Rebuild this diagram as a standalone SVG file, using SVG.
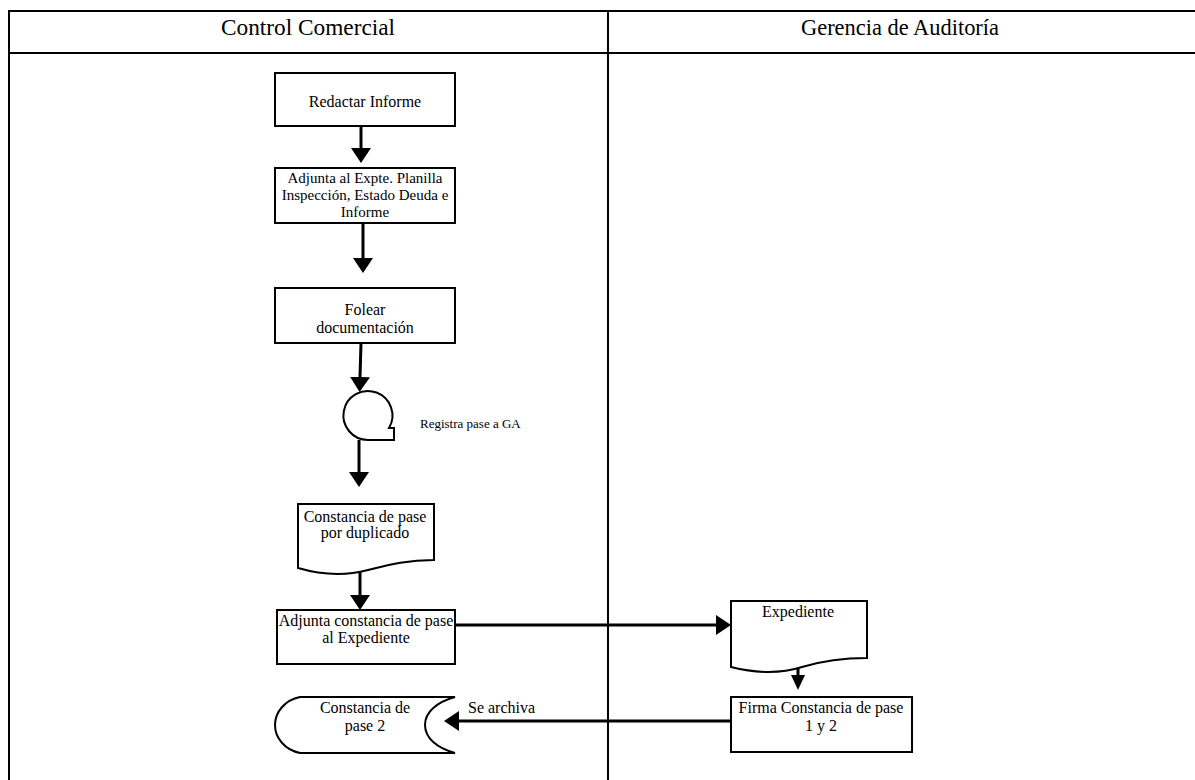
<svg xmlns="http://www.w3.org/2000/svg" width="1195" height="780" viewBox="0 0 1195 780">
  <defs>
    <marker id="head" markerUnits="userSpaceOnUse" markerWidth="16" markerHeight="22" viewBox="0 -11 16 22" refX="0" refY="0" orient="auto">
      <path d="M0,-10 L15,0 L0,10 Z" fill="#000"/>
    </marker>
    <marker id="headSmall" markerUnits="userSpaceOnUse" markerWidth="16" markerHeight="16" viewBox="0 -8 16 16" refX="0" refY="0" orient="auto">
      <path d="M0,-7 L15,0 L0,7 Z" fill="#000"/>
    </marker>
    <style>
      .lane { stroke: #000; stroke-width: 2; fill: none; }
      .shape { fill: #fff; stroke: #000; stroke-width: 2; }
      .label { font-family: "Liberation Serif", "Times New Roman", serif; font-size: 16px; fill: #000; text-anchor: middle; }
      .label.small { font-size: 15px; }
      .note { font-family: "Liberation Serif", "Times New Roman", serif; fill: #000; }
      .title { font-family: "Liberation Serif", "Times New Roman", serif; font-size: 24px; fill: #000; text-anchor: middle; }
      .flow { stroke: #000; stroke-width: 3; fill: none; marker-end: url(#head); }
      .flowSmall { stroke: #000; stroke-width: 3; fill: none; marker-end: url(#headSmall); }
    </style>
  </defs>
  <rect width="1195" height="780" fill="#fff"/>

  <!-- swimlane table -->
  <g id="lanes">
    <line class="lane" x1="8" y1="11" x2="1195" y2="11"/>
    <line class="lane" x1="8" y1="53" x2="1195" y2="53"/>
    <line class="lane" x1="9" y1="10" x2="9" y2="780"/>
    <line class="lane" x1="608" y1="10" x2="608" y2="780"/>
    <text class="title" x="308" y="35" textLength="174" lengthAdjust="spacingAndGlyphs">Control Comercial</text>
    <text class="title" x="900" y="35" textLength="198" lengthAdjust="spacingAndGlyphs">Gerencia de Auditoría</text>
  </g>

  <!-- connectors -->
  <g id="connectors">
    <line class="flow" x1="361" y1="126" x2="361" y2="148"/>
    <line class="flow" x1="363" y1="223" x2="363" y2="258"/>
    <line class="flow" x1="361" y1="343" x2="360" y2="377"/>
    <line class="flow" x1="359" y1="440" x2="359" y2="472"/>
    <line class="flow" x1="360" y1="570" x2="360" y2="595"/>
    <line class="flow" x1="455" y1="625" x2="716" y2="625"/>
    <line class="flowSmall" x1="798" y1="668" x2="798" y2="675"/>
    <line class="flow" x1="731" y1="721" x2="459" y2="721"/>
    <text class="note" x="468" y="713" font-size="16">Se archiva</text>
  </g>

  <g id="redactar-informe">
    <rect class="shape" x="275" y="73" width="180" height="53"/>
    <text class="label" x="365" y="107">Redactar Informe</text>
  </g>

  <g id="adjunta-expte">
    <rect class="shape" x="275" y="168" width="180" height="55"/>
    <text class="label small" x="365" y="183">Adjunta al Expte. Planilla</text>
    <text class="label small" x="365" y="200">Inspección, Estado Deuda e</text>
    <text class="label small" x="365" y="217">Informe</text>
  </g>

  <g id="folear-documentacion">
    <rect class="shape" x="275" y="288" width="180" height="55"/>
    <text class="label" x="365" y="315">Folear</text>
    <text class="label" x="365" y="333">documentación</text>
  </g>

  <g id="registra-pase">
    <path class="shape" d="M368,440 A24.5,24.5 0 1,1 389,428 L394,428 L394,440 Z"/>
    <text class="note" x="420" y="428" font-size="13">Registra pase a GA</text>
  </g>

  <g id="constancia-duplicado">
    <path class="shape" d="M298,504 H434 V560 C405,560 388,565 368,570 C345,576 322,575 298,568 Z"/>
    <text class="label" x="365" y="522">Constancia de pase</text>
    <text class="label" x="365" y="538">por duplicado</text>
  </g>

  <g id="adjunta-constancia">
    <rect class="shape" x="277" y="610" width="178" height="54"/>
    <text class="label" x="366" y="626">Adjunta constancia de pase</text>
    <text class="label" x="366" y="643">al Expediente</text>
  </g>

  <g id="constancia-pase-2">
    <path class="shape" d="M300,697 H455 C437,702 425,712 425,725 C425,738 437,748 455,753 H300 C285,750 275,738 275,725 C275,712 285,700 300,697 Z"/>
    <text class="label" x="365" y="713">Constancia de</text>
    <text class="label" x="365" y="731">pase 2</text>
  </g>

  <g id="expediente">
    <path class="shape" d="M731,601 H867 V658 C842,658 822,661 802,667 C780,674 755,673 731,667 Z"/>
    <text class="label" x="798" y="617">Expediente</text>
  </g>

  <g id="firma-constancia">
    <rect class="shape" x="731" y="697" width="181" height="55"/>
    <text class="label" x="821" y="713">Firma Constancia de pase</text>
    <text class="label" x="821" y="731">1 y 2</text>
  </g>
</svg>
